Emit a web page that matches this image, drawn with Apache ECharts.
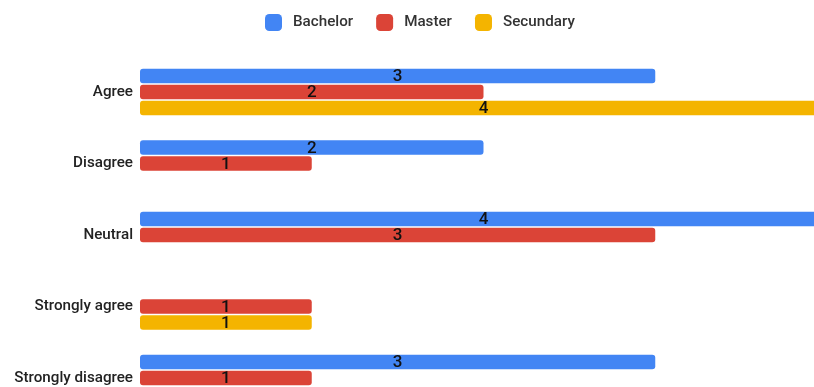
<!DOCTYPE html>
<html><head><meta charset="utf-8">
<script src="https://cdn.jsdelivr.net/npm/echarts@6/dist/echarts.min.js"></script>
<style>html,body{margin:0;padding:0;background:#fff}#c{width:814px;height:387px}</style>
</head><body><div id="c"></div>
<script>
const categories = ['Agree', 'Disagree', 'Neutral', 'Strongly agree', 'Strongly disagree'];
const seriesNames = ['Bachelor', 'Master', 'Secundary'];
const bachelor = [3, 2, 4, '-', 3];
const master = [2, 1, 3, 1, 1];
const secundary = [4, '-', '-', 1, '-'];
const colors = ['#4285F4', '#DB4437', '#F4B400'];

const chart = echarts.init(document.getElementById('c'), null, {renderer: 'canvas'});
const mk = (name, data, color) => ({
  name, type: 'bar', data, barWidth: 14.5, barGap: '10%',
  itemStyle: {color, borderRadius: 3},
  label: {show: true, position: 'inside', color: '#111', fontSize: 17, fontWeight: 500, fontFamily: 'Roboto', offset: [0, 1]}
});
chart.setOption({
  animation: false,
  textStyle: {fontFamily: 'Roboto'},
  legend: {
    top: 9, left: 260, itemWidth: 17, itemHeight: 17, itemGap: 23,
    icon: 'roundRect',
    textStyle: {color: '#333', fontSize: 15.2, fontWeight: 500, fontFamily: 'Roboto', padding: [0, 0, 0, 6]},
    data: seriesNames
  },
  grid: {left: 140, top: 56.25, width: 687, height: 357.5, containLabel: false, outerBoundsMode: 'none'},
  xAxis: {type: 'value', min: 0, max: 4, show: false},
  yAxis: {
    type: 'category', data: categories, inverse: true,
    axisLine: {show: false}, axisTick: {show: false},
    axisLabel: {color: '#222', fontSize: 15.2, fontWeight: 500, fontFamily: 'Roboto', margin: 7}
  },
  series: [mk(seriesNames[0], bachelor, colors[0]), mk(seriesNames[1], master, colors[1]), mk(seriesNames[2], secundary, colors[2])]
});
</script></body></html>
